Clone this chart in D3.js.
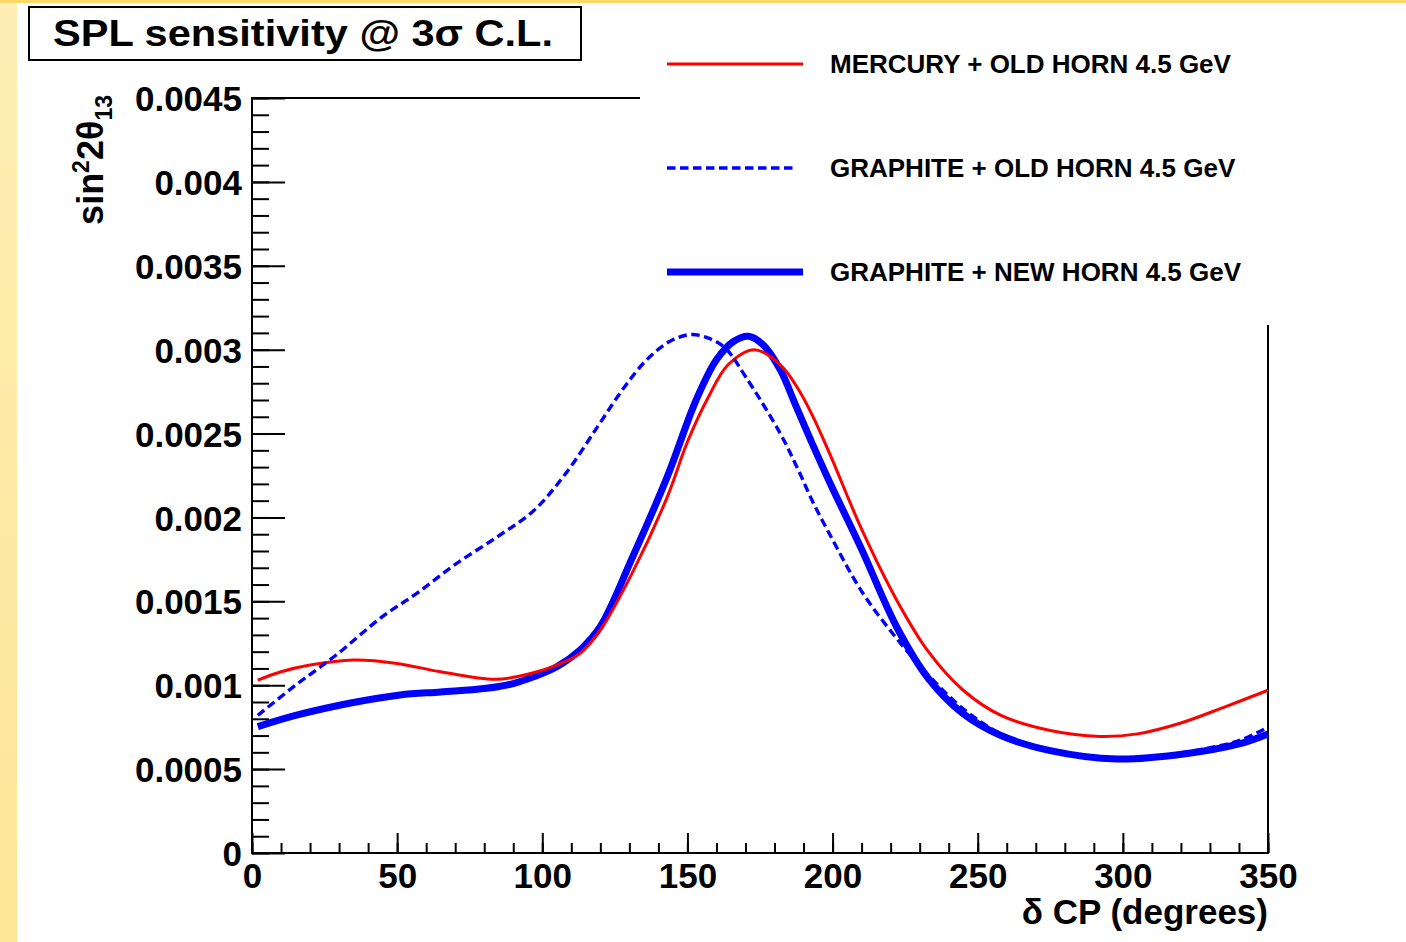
<!DOCTYPE html>
<html>
<head>
<meta charset="utf-8">
<script src="https://cdn.jsdelivr.net/npm/d3@7"></script>
<style>
  body { margin: 0; background: #fff; }
  svg { display: block; font-family: "Liberation Sans", Arial, Helvetica, sans-serif; font-weight: bold; }
</style>
</head>
<body>
<div id="chart"></div>
<script>
// delta CP (degrees) vs sin^2 2theta13 sensitivity
const mercuryOld = [
  [2,0.00103],[10,0.00108],[20,0.00112],[35,0.00115],[50,0.00113],[65,0.00108],
  [84,0.001035],[96,0.00107],[105,0.00112],[113,0.00119],[120,0.00133],[131,0.00167],
  [143,0.00212],[150,0.00245],[157,0.00271],[164,0.00291],[173,0.0030],[182,0.00291],
  [188,0.00277],[193,0.00261],[199,0.00238],[210,0.00193],[222,0.00151],[233,0.0012],[245,0.00097],
  [258,0.00082],[275,0.00073],[292,0.000695],[305,0.00071],[320,0.000775],[335,0.00087],[350,0.00097]
];
const graphiteOld = [
  [2,0.00082],[15,0.001],[29,0.00118],[45,0.00141],[57,0.00155],[70,0.00172],
  [85,0.00189],[97,0.00204],[108,0.00226],[119,0.00254],[128,0.00277],[136,0.00294],
  [144,0.00305],[151,0.00309],[157,0.00307],[163,0.00301],[170,0.00284],[182,0.0025],
  [188,0.00229],[193,0.0021],[199,0.0019],[210,0.00156],[222,0.00128],[233,0.00106],[245,0.00086],
  [258,0.00071],[275,0.00061],[298,0.00056],[321,0.0006],[340,0.00067],[350,0.00075]
];
const graphiteNew = [
  [2,0.000753],[15,0.00082],[34,0.000894],[51,0.000942],[65,0.00096],[80,0.00098],
  [90,0.00101],[97,0.00105],[105,0.00111],[113,0.00121],[120,0.00135],[131,0.00176],
  [143,0.00224],[153,0.0027],[160,0.00294],[166,0.00305],[171,0.00308],[176,0.00303],
  [182,0.00288],[187,0.00268],[193,0.00244],[199,0.00221],[210,0.00181],[222,0.00135],[233,0.00104],
  [245,0.00083],[258,0.0007],[275,0.00061],[298,0.00056],[321,0.00059],[340,0.00065],[350,0.00071]
];

const seriesNames = ["MERCURY + OLD HORN 4.5 GeV", "GRAPHITE + OLD HORN 4.5 GeV", "GRAPHITE + NEW HORN 4.5 GeV"];
const xMajorTicks = [0, 50, 100, 150, 200, 250, 300, 350];
const yMajorTicks = [0, 0.0005, 0.001, 0.0015, 0.002, 0.0025, 0.003, 0.0035, 0.004, 0.0045];
const yTickLabels = ["0", "0.0005", "0.001", "0.0015", "0.002", "0.0025", "0.003", "0.0035", "0.004", "0.0045"];
const titleText = "SPL sensitivity @ 3σ C.L.";

const width = 1406, height = 942;
const margin = ({top: 98, right: 138, bottom: 89, left: 252});

let svg = d3.select("#chart").append("svg")
  .attr("width", width)
  .attr("height", height);

// slide background: yellow strips on the left and top
let defs = svg.append("defs");
let grad = defs.append("linearGradient").attr("id", "strip")
  .attr("x1", 0).attr("y1", 0).attr("x2", 0).attr("y2", 1);
grad.append("stop").attr("offset", "0%").attr("stop-color", "#fdeeb4");
grad.append("stop").attr("offset", "100%").attr("stop-color", "#fde697");

svg.append("rect").attr("x", 0).attr("y", 0).attr("width", 17).attr("height", height)
  .attr("fill", "url(#strip)");
svg.append("rect").attr("x", 0).attr("y", 0).attr("width", width).attr("height", 3)
  .attr("fill", "#fcd968");

let x = d3.scaleLinear().domain([0, 350]).range([margin.left, width - margin.right]);
let y = d3.scaleLinear().domain([0, 0.0045]).range([height - margin.bottom, margin.top]);

// frame
svg.append("rect")
  .attr("x", x(0)).attr("y", y(0.0045))
  .attr("width", x(350) - x(0)).attr("height", y(0) - y(0.0045))
  .attr("fill", "none").attr("stroke", "#000").attr("stroke-width", 2);

// axes
let xMinor = d3.range(0, 351, 10);
let yMinor = d3.range(0, 46).map(d => d * 0.0001);

svg.append("g")
  .attr("transform", `translate(0,${y(0)})`)
  .call(d3.axisBottom(x).tickValues(xMinor).tickSize(-10).tickFormat(""))
  .call(g => g.select(".domain").remove());
let xAxis = svg.append("g")
  .attr("transform", `translate(0,${y(0)})`)
  .call(d3.axisBottom(x).tickValues(xMajorTicks).tickSize(-20).tickPadding(10).tickFormat(d3.format("d")));
xAxis.select(".domain").remove();

svg.append("g")
  .attr("transform", `translate(${x(0)},0)`)
  .call(d3.axisLeft(y).tickValues(yMinor).tickSize(-17).tickFormat(""))
  .call(g => g.select(".domain").remove());
let yAxis = svg.append("g")
  .attr("transform", `translate(${x(0)},0)`)
  .call(d3.axisLeft(y).tickValues(yMajorTicks).tickSize(-33).tickPadding(10)
    .tickFormat((d, i) => yTickLabels[i]));
yAxis.select(".domain").remove();

svg.selectAll(".tick line").attr("stroke", "#000").attr("stroke-width", 2);
svg.selectAll(".tick text")
  .attr("fill", "#000")
  .style("font-family", "'Liberation Sans', Arial, sans-serif")
  .style("font-weight", "bold")
  .style("font-size", "35px");
xAxis.selectAll(".tick text").attr("dy", "0.72em");
yAxis.selectAll(".tick text").attr("dy", "0.36em");

// curves
let line = d3.line()
  .x(d => x(d[0]))
  .y(d => y(d[1]))
  .curve(d3.curveCatmullRom.alpha(0.5));

svg.append("path").datum(graphiteNew)
  .attr("d", line).attr("fill", "none")
  .attr("stroke", "#0000ff").attr("stroke-width", 7);
svg.append("path").datum(mercuryOld)
  .attr("d", line).attr("fill", "none")
  .attr("stroke", "#ff0000").attr("stroke-width", 3);
svg.append("path").datum(graphiteOld)
  .attr("d", line).attr("fill", "none")
  .attr("stroke", "#0000ff").attr("stroke-width", 3.4)
  .attr("stroke-dasharray", "8.5,4.5");

// legend (white box covers the frame corner)
let legend = svg.append("g");
legend.append("rect")
  .attr("x", 640).attr("y", 12).attr("width", 660).attr("height", 313)
  .attr("fill", "#fff");

let legendStyles = [
  {color: "#ff0000", w: 3, dash: null, len: 136},
  {color: "#0000ff", w: 3.4, dash: "8.5,4.5", len: 128},
  {color: "#0000ff", w: 7, dash: null, len: 136}
];
seriesNames.forEach((name, i) => {
  let ly = 64 + i * 104;
  legend.append("line")
    .attr("x1", 667).attr("x2", 667 + legendStyles[i].len)
    .attr("y1", ly).attr("y2", ly)
    .attr("stroke", legendStyles[i].color)
    .attr("stroke-width", legendStyles[i].w)
    .attr("stroke-dasharray", legendStyles[i].dash);
  legend.append("text")
    .attr("x", 830).attr("y", ly + 9)
    .attr("font-size", 26)
    .text(name);
});

// title box
svg.append("rect")
  .attr("x", 29).attr("y", 7).attr("width", 552).attr("height", 53)
  .attr("fill", "#fff").attr("stroke", "#000").attr("stroke-width", 2);
svg.append("text")
  .attr("x", 53).attr("y", 46)
  .attr("font-size", 37)
  .attr("textLength", 500).attr("lengthAdjust", "spacingAndGlyphs")
  .text(titleText);

// axis titles
svg.append("text")
  .attr("x", x(350)).attr("y", 924)
  .attr("text-anchor", "end")
  .attr("font-size", 35)
  .text("δ CP (degrees)");

let yTitle = svg.append("text")
  .attr("transform", "translate(103,95) rotate(-90)")
  .attr("text-anchor", "end")
  .attr("font-size", 36);
yTitle.append("tspan").text("sin");
yTitle.append("tspan").attr("font-size", 23).attr("dy", -14).text("2");
yTitle.append("tspan").attr("dy", 14).text("2θ");
yTitle.append("tspan").attr("font-size", 23).attr("dy", 9).text("13");
</script>
</body>
</html>
